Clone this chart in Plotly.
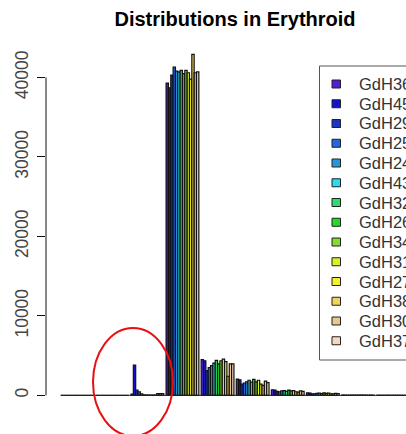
import plotly.graph_objects as go

# Samples (one bar per sample inside every bin) and their fill colours
samples = ["GdH36", "GdH45", "GdH29", "GdH25", "GdH24", "GdH43", "GdH32",
           "GdH26", "GdH34", "GdH31", "GdH27", "GdH38", "GdH30", "GdH37"]
colors = ["#4F1FD8", "#1414D0", "#1C34C4", "#2266E0", "#2896DC", "#2ADCEE",
          "#2CDC6C", "#22DC28", "#84DC30", "#DCF02A", "#F4F02C", "#F0D45C",
          "#E8C88C", "#F6D8BA"]

# Distribution bins along the x axis
bins = list(range(10))

# Counts per bin, one row per bin, one column per sample
counts = [
    [0] * 14,
    [0] * 14,
    [150, 3800, 650, 450, 200, 60, 40, 40, 30, 30, 40, 220, 220, 220],
    [39300, 38700, 40300, 41300, 40800, 40700, 40900, 40500, 40900, 40600,
     39800, 42900, 40600, 40700],
    [4500, 4350, 3100, 3500, 3750, 4050, 4400, 3950, 4350, 4550, 4250, 2400,
     3950, 3950],
    [2050, 1950, 1400, 1550, 1700, 1900, 1650, 2000, 1700, 1900, 1400, 1250,
     1800, 1600],
    [700, 650, 500, 450, 550, 600, 500, 650, 550, 600, 450, 400, 550, 500],
    [300, 280, 200, 200, 250, 280, 220, 300, 250, 280, 200, 180, 250, 230],
    [40, 30, 20, 20, 30, 30, 20, 30, 30, 30, 20, 20, 30, 20],
    [10, 10, 5, 5, 10, 10, 5, 10, 10, 10, 5, 5, 10, 5],
]

y_ticks = [0, 10000, 20000, 30000, 40000]
title_text = "Distributions in Erythroid"

W, H = 406, 434
ML, MR, MT, MB = 46, 0, 40, 25
PW, PH = W - ML - MR, H - MT - MB


def px_x(px):
    return (px - ML) / PW


def px_y(py):
    return (H - MB - py) / PH


fig = go.Figure()
for j, name in enumerate(samples):
    fig.add_trace(go.Bar(
        x=bins,
        y=[row[j] for row in counts],
        name=name,
        marker=dict(color=colors[j], line=dict(color="#111111", width=1.2)),
        showlegend=False,
    ))

shapes = []
# baseline of the bars
shapes.append(dict(type="line", xref="x", yref="y", x0=-0.47, x1=10,
                   y0=0, y1=0, line=dict(color="#222222", width=1)))
# y axis line spanning the tick range only
shapes.append(dict(type="line", xref="paper", yref="y", x0=0, x1=0,
                   y0=y_ticks[0], y1=y_ticks[-1],
                   line=dict(color="#111111", width=1)))

# legend box
shapes.append(dict(type="rect", xref="paper", yref="paper",
                   x0=px_x(319.5), x1=px_x(470), y0=px_y(66), y1=px_y(360),
                   line=dict(color="#555555", width=1), fillcolor="white",
                   layer="above"))
annotations = []
for i, name in enumerate(samples):
    cy = 84 + 19.75 * i
    shapes.append(dict(type="rect", xref="paper", yref="paper",
                       x0=px_x(332), x1=px_x(340.5),
                       y0=px_y(cy + 4), y1=px_y(cy - 4),
                       fillcolor=colors[i], line=dict(color="#222222", width=1),
                       layer="above"))
    annotations.append(dict(text=name, xref="paper", yref="paper",
                            x=px_x(356.5), y=px_y(cy), xanchor="left",
                            yanchor="middle", showarrow=False,
                            font=dict(family="Liberation Sans", size=16.5,
                                      color="#333333")))

# highlight ellipse around the small early peak
shapes.append(dict(type="circle", xref="paper", yref="paper",
                   x0=px_x(93), x1=px_x(173), y0=px_y(436), y1=px_y(328),
                   line=dict(color="#E81010", width=2), layer="above"))

fig.update_layout(
    width=W, height=H,
    margin=dict(l=ML, r=MR, t=MT, b=MB, pad=0),
    paper_bgcolor="white", plot_bgcolor="white",
    barmode="group", bargap=1 / 15, bargroupgap=0,
    title=dict(text="<b>" + title_text + "</b>", x=235 / W, xref="container",
               xanchor="center", y=1 - 19 / H, yref="container",
               yanchor="middle",
               font=dict(family="Liberation Sans", size=20, color="black")),
    xaxis=dict(visible=False, range=[-0.889, 9.37]),
    yaxis=dict(range=[-1720, 44720], tickvals=y_ticks,
               ticktext=[str(v) for v in y_ticks], tickangle=-90,
               ticks="outside", ticklen=8, tickcolor="#111111",
               showgrid=False, zeroline=False, showline=False,
               ticklabelstandoff=2,
               tickfont=dict(family="Liberation Sans", size=17.5,
                             color="#444444")),
    shapes=shapes,
    annotations=annotations,
    showlegend=False,
)

fig.write_html("out.html")
